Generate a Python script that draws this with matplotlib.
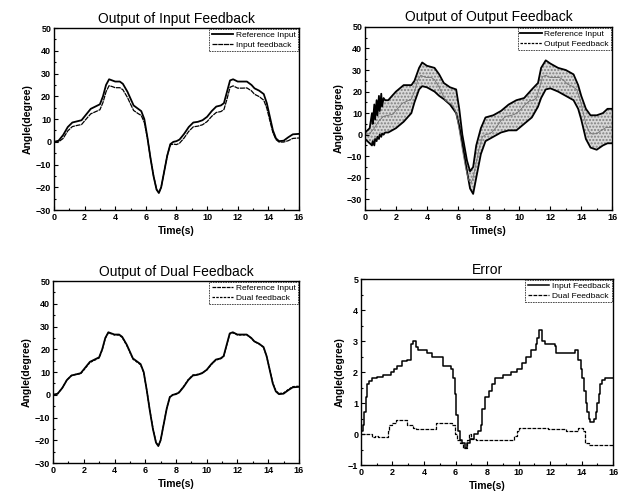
import numpy as np
import matplotlib
matplotlib.use('Agg')
import matplotlib.pyplot as plt
from matplotlib.ticker import MultipleLocator
from matplotlib.lines import Line2D

plt.rcParams['font.family'] = ['Liberation Sans', 'DejaVu Sans']

# Reference trajectory (time in s, angle in degree)
t_ref = [0, 0.3, 0.6, 0.9, 1.2, 1.5, 1.8, 2.1, 2.4, 2.7, 3.0, 3.2, 3.4, 3.6, 3.8, 4.0, 4.3, 4.5, 4.8, 5.0,
         5.2, 5.5, 5.7, 5.9, 6.1, 6.3, 6.5, 6.7, 6.85, 7.0, 7.2, 7.4, 7.6, 7.8, 8.0, 8.2, 8.5, 8.8, 9.1, 9.4,
         9.7, 10.0, 10.3, 10.6, 10.9, 11.1, 11.3, 11.5, 11.7, 12.0, 12.3, 12.6, 12.9, 13.1, 13.4, 13.7, 13.9, 14.1, 14.3, 14.5,
         14.7, 15.0, 15.3, 15.6, 16.0]
ref = [0, 0.5, 3, 6.5, 8.5, 9, 9.5, 12, 14.5, 15.5, 16.5, 20, 25, 27.5, 27, 26.5, 26.5, 25.5, 22, 19,
       16, 14.5, 13.5, 10, 2, -7, -15, -21, -22.5, -20, -13, -6, -1, 0, 0.3, 1, 3.5, 6.5, 8.5, 8.8,
       9.5, 11, 13.5, 15.5, 16, 17, 22, 27, 27.5, 26.5, 26.5, 26.5, 25, 23.5, 22.5, 21, 17, 11, 5, 1.5,
       0.3, 0.5, 2, 3.3, 3.5]
input_fb = [0, 0, 1.5, 4.8, 6.7, 7.2, 7.6, 10, 12.3, 13.2, 14.1, 17.3, 22, 24.7, 24.3, 23.8, 23.8, 22.9, 19.5, 16.6,
            13.8, 12.4, 11.6, 8.5, 1.8, -7, -14.8, -20.9, -22.3, -20, -13, -6, -1.3, -1, -1.2, -0.6, 1.7, 4.6, 6.6, 6.9,
            7.5, 8.9, 11.2, 12.9, 13.3, 14.2, 18.8, 24, 24.6, 23.6, 23.6, 23.7, 22.4, 20.9, 19.9, 18.3, 14.8, 9.3, 4, 1,
            -0.1, -0.1, 0.5, 1.5, 1.7]
dual_fb = [0, 0.5, 3, 6.5, 8.5, 9, 9.3, 11.7, 14.2, 15.2, 16.2, 19.8, 24.8, 27.3, 26.8, 26.3, 26.3, 25.2, 21.7, 18.7,
           15.7, 14.2, 13.2, 9.7, 2, -6.8, -14.7, -20.8, -22.5, -20, -12.9, -5.9, -0.9, 0.1, 0.5, 1.2, 3.7, 6.7, 8.7, 9,
           9.6, 10.9, 13.3, 15.3, 15.8, 16.8, 21.8, 26.8, 27.3, 26.3, 26.3, 26.4, 24.9, 23.4, 22.4, 20.9, 16.8, 11.3, 5.3, 1.8,
           0.6, 0.8, 2.3, 3.6, 3.8]

# Output feedback: chattering band (upper / lower envelope)
t_out = [0, 0.3, 0.45, 0.5, 0.6, 0.65, 0.75, 0.8, 0.9, 0.95, 1.05, 1.1, 1.2, 1.3, 1.5, 2.0, 2.5, 3.0, 3.2, 3.5,
         3.7, 4.0, 4.5, 4.8, 5.1, 5.5, 5.9, 6.1, 6.3, 6.6, 6.8, 7.0, 7.2, 7.5, 7.8, 8.3, 8.8, 9.3, 9.8, 10.3,
         10.8, 11.2, 11.4, 11.7, 12.0, 12.5, 13.0, 13.5, 13.8, 14.0, 14.3, 14.6, 15.0, 15.4, 15.7, 16.0]
out_upper = [1, 3, 10, 5, 14, 7, 16, 9, 18, 11, 19, 13, 17, 16, 16, 20, 23, 23, 25, 31,
             33.5, 32, 31, 28, 24, 22, 21, 12, 0, -12, -17, -15, -5, 3, 8, 9, 11, 14, 16, 17,
             21, 24, 31, 34.5, 33, 31, 30, 28, 23, 18, 12, 9, 9, 10, 12, 12]
out_lower = [-2, -4, -5, -3, -5, -2, -3, -1, -2, 0, -1, 0.5, 0, 1, 1, 3, 6, 10, 15, 21,
             22.5, 22, 20, 18, 16.5, 14, 10, 4, -4, -17, -25, -27.5, -20, -9, -3, -1, 1, 2, 2, 5,
             8, 13, 17, 21, 21.5, 20, 18, 16, 12, 7, -2, -6, -7, -5, -4, -4]

# Tracking errors
t_err_in = [0.0, 0.1, 0.2, 0.3, 0.4, 0.5, 0.7, 1.0, 1.4, 1.9, 2.1, 2.3, 2.6, 2.9, 3.2, 3.3, 3.5, 3.6, 3.9, 4.2,
            4.5, 4.9, 5.2, 5.7, 5.85, 5.95, 6.05, 6.15, 6.3, 6.4, 6.6, 6.75, 6.9, 7.2, 7.45, 7.6, 7.7, 7.85, 8.1, 8.3,
            8.5, 9.0, 9.5, 9.9, 10.2, 10.5, 10.8, 11.1, 11.2, 11.3, 11.5, 11.7, 12.3, 12.4, 13.6, 13.8, 13.95, 14.05, 14.15, 14.25,
            14.35, 14.45, 14.55, 14.8, 14.9, 15.0, 15.1, 15.2, 15.3, 15.5, 16.0]
err_in = [0.1, 0.3, 0.7, 1.2, 1.6, 1.7, 1.8, 1.85, 1.9, 2.0, 2.1, 2.2, 2.35, 2.4, 2.9, 3.0, 2.8, 2.7, 2.7, 2.6,
          2.5, 2.5, 2.2, 2.1, 1.8, 1.3, 0.6, 0.1, -0.2, -0.3, -0.45, -0.3, -0.15, 0.0, 0.1, 0.3, 0.8, 1.2, 1.4, 1.6,
          1.8, 1.9, 2.0, 2.1, 2.3, 2.5, 2.7, 2.9, 3.1, 3.35, 3.0, 2.9, 2.85, 2.6, 2.7, 2.4, 2.1, 1.8, 1.4, 1.0,
          0.7, 0.5, 0.4, 0.5, 0.7, 1.0, 1.3, 1.6, 1.75, 1.8, 1.8]
t_err_dual = [0.0, 0.7, 0.9, 1.1, 1.7, 1.8, 2.0, 2.2, 2.9, 3.3, 3.5, 4.6, 4.75, 5.8, 5.95, 6.1, 6.3, 6.5, 6.7, 6.85,
              7.0, 7.3, 9.5, 9.7, 9.9, 10.0, 11.8, 11.9, 12.9, 13.0, 13.8, 14.1, 14.2, 14.5, 14.8, 16.0]
err_dual = [0.0, -0.1, -0.05, -0.1, 0.1, 0.3, 0.35, 0.45, 0.3, 0.2, 0.15, 0.15, 0.35, 0.3, 0.0, -0.2, -0.3, -0.45, -0.2, 0.0,
            -0.15, -0.2, -0.2, -0.05, 0.1, 0.2, 0.2, 0.15, 0.15, 0.1, 0.2, 0.1, -0.3, -0.35, -0.35, -0.35]

fig = plt.figure(figsize=(6.24, 4.99), dpi=100)
ax1 = fig.add_axes([0.0865, 0.579, 0.3926, 0.3647])
ax2 = fig.add_axes([0.585, 0.579, 0.396, 0.367])
ax3 = fig.add_axes([0.085, 0.072, 0.394, 0.3647])
ax4 = fig.add_axes([0.5785, 0.068, 0.404, 0.3727])


def style(ax, title, ylim, ymaj, ymin):
    ax.set_xlim(0, 16)
    ax.set_ylim(*ylim)
    ax.xaxis.set_major_locator(MultipleLocator(2))
    ax.xaxis.set_minor_locator(MultipleLocator(1))
    ax.yaxis.set_major_locator(MultipleLocator(ymaj))
    ax.yaxis.set_minor_locator(MultipleLocator(ymin))
    ax.tick_params(which='both', direction='in', labelsize=6.5, pad=2, width=0.8)
    ax.tick_params(which='major', length=3)
    ax.tick_params(which='minor', length=1.5)
    for lab in ax.get_xticklabels() + ax.get_yticklabels():
        lab.set_fontweight('bold')
    for s in ax.spines.values():
        s.set_linewidth(1.0)
    ax.set_title(title, fontsize=10, pad=4)
    ax.set_xlabel('Time(s)', fontsize=7.5, fontweight='bold', labelpad=3)
    ax.set_ylabel('Angle(degree)', fontsize=7.5, fontweight='bold', labelpad=2)


def legend(ax, handles, labels):
    leg = ax.legend(handles, labels, loc='upper right', fontsize=6, handlelength=2.6,
                    borderaxespad=0.1, borderpad=0.3, labelspacing=0.2, handletextpad=0.3,
                    frameon=True, fancybox=False)
    leg.get_frame().set_edgecolor('black')
    leg.get_frame().set_linewidth(0.6)
    leg.get_frame().set_linestyle((0, (2, 1)))


# Input feedback
r1, = ax1.plot(t_ref, ref, color='black', lw=1.3)
f1, = ax1.plot(t_ref, input_fb, color='black', lw=0.9, ls=(0, (4, 0.6)))
style(ax1, 'Output of Input Feedback', (-30, 50), 10, 5)
legend(ax1, [r1, f1], ['Reference Input', 'Input feedback'])

# Output feedback
ax2.fill_between(t_out, out_lower, out_upper, facecolor='0.85', edgecolor='0.5',
                 hatch='.....', linewidth=0)
ax2.plot(t_out, out_upper, color='black', lw=1.3)
ax2.plot(t_out, out_lower, color='black', lw=1.3)
r2, = ax2.plot(t_ref, ref, color='0.45', lw=0.6)
style(ax2, 'Output of Output Feedback', (-35, 50), 10, 5)
legend(ax2, [Line2D([], [], color='black', lw=1.3),
             Line2D([], [], color='black', lw=0.9, ls=(0, (2, 1)))],
       ['Reference Input', 'Output Feedback'])

# Dual feedback
r3, = ax3.plot(t_ref, ref, color='black', lw=1.3)
f3, = ax3.plot(t_ref, dual_fb, color='black', lw=0.9, ls=(0, (2, 1)))
style(ax3, 'Output of Dual Feedback', (-30, 50), 10, 5)
legend(ax3, [Line2D([], [], color='black', lw=0.9, ls=(0, (3, 0.8))), f3],
       ['Reference Input', 'Dual feedback'])

# Error
e1, = ax4.plot(t_err_in, err_in, color='black', lw=1.1, drawstyle='steps-post')
e2, = ax4.plot(t_err_dual, err_dual, color='black', lw=0.9, ls=(0, (3, 1)), drawstyle='steps-post')
style(ax4, 'Error', (-1, 5), 1, 0.5)
legend(ax4, [e1, e2], ['Input Feedback', 'Dual Feedback'])

fig.savefig('out.png', dpi=100)
